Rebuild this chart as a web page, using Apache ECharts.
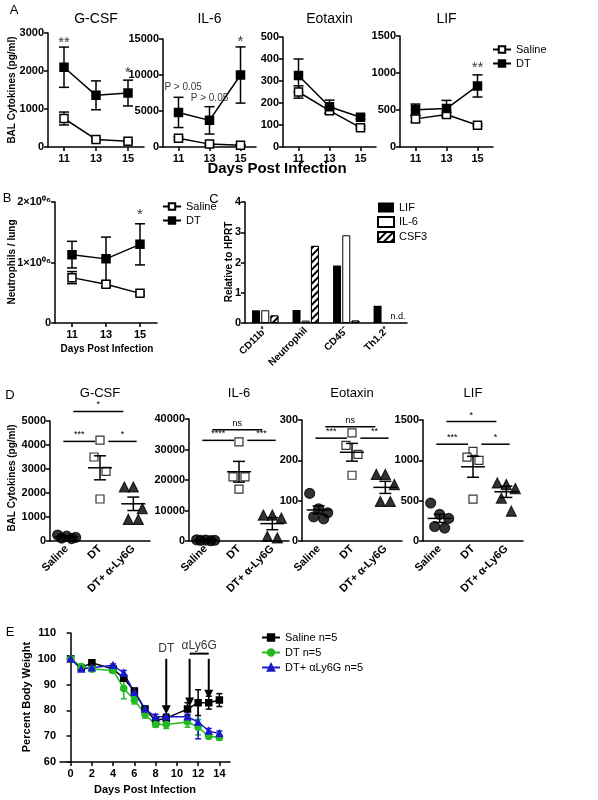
<!DOCTYPE html>
<html><head><meta charset="utf-8">
<script src="https://cdn.jsdelivr.net/npm/echarts@6/dist/echarts.min.js"></script>
<style>html,body{margin:0;padding:0;background:#fff}#c{width:598px;height:800px}</style>
</head><body><div id="c"></div>
<script>
// ---- Panel A data (days 11,13,15) ----
const daysA = [11, 13, 15];
const aTitles = ['G-CSF', 'IL-6', 'Eotaxin', 'LIF'];
const aSaline = [[750,200,150],[1200,400,250],[250,165,88],[380,440,295]];
const aSalineErr = [[170,40,30],[200,100,60],[28,12,6],[40,25,15]];
const aDT = [[2100,1360,1420],[4800,3700,10000],[325,183,135],[505,520,825]];
const aDTErr = [[530,380,340],[2100,1900,3900],[75,30,8],[75,110,150]];
const aMax = [3000,15000,500,1500];
const aInt = [1000,5000,100,500];
const aStars = [[[11,2750,'**'],[15,1950,'*']],[[15,14600,'*']],[],[[15,1070,'**']]];
// ---- Panel B ----
const bSaline = [750000,640000,490000];
const bSalineErr = [100000,40000,25000];
const bDT = [1130000,1060000,1300000];
const bDTErr = [220000,360000,340000];
// ---- Panel C ----
const cCats = ['CD11b\u207A','Neutrophil','CD45\u207B','Th1.2\u207A'];
const cLIF = [0.42,0.43,1.9,0.57];
const cIL6 = [0.42,0.08,2.9,null];
const cCSF3 = [0.25,2.55,0.08,null];
// ---- Panel D ----
const dCats = ['Saline','DT','DT+ \u03B1-Ly6G'];
const dTitles = ['G-CSF','IL-6','Eotaxin','LIF'];
const dMax = [5000,40000,300,1500];
const dInt = [1000,10000,100,500];
const dSaline = [[250,200,150,120,100],[400,300,250,200,100],[118,80,70,60,55],[470,330,280,180,160]];
const dDT = [[4200,3500,2900,1750],[32500,21000,21000,17000],[268,237,215,163],[1110,1040,1000,520]];
const dLy = [[2250,2250,1350,900,900],[8500,8500,7500,1500,1000],[165,165,140,98,98],[720,700,650,530,370]];
const dMean = [[180,3050,1550],[250,22700,5700],[77,220,133],[280,920,610]];
const dSem = [[40,500,280],[60,3400,2000],[10,22,15],[50,130,70]];
const dSig = [
  [[-0.1,0.85,4150,'***'],[1.25,2.1,4150,'*'],[0.2,1.7,5400,'*']],
  [[-0.1,0.85,33000,'****'],[1.25,2.1,33000,'***'],[0.2,1.7,36500,'ns']],
  [[-0.1,0.85,255,'***'],[1.25,2.1,255,'**'],[0.2,1.7,283,'ns']],
  [[-0.1,0.85,1200,'***'],[1.25,2.1,1200,'*'],[0.2,1.7,1480,'*']]
];
// ---- Panel E ----
const eDays = [0,1,2,4,5,6,7,8,9,11,12,13,14];
const eSaline = [100,96.5,98.5,96,92.5,87.5,80.5,76,77,80.5,83,83,84];
const eSalineErr = [0.5,0.5,1,0.5,1,1,1,1,1.5,2.5,5,2.5,2.5];
const eDT = [100,97,96,95.5,88.5,84,78.5,74.5,74.5,75.5,73.5,70,69.5];
const eDTErr = [0.5,0.5,1,1,4,1.5,1.5,1,1.5,2,3,1,1];
const eLy = [100,96,96.5,97.5,94.5,87,80.5,77.5,77.5,77.5,75.5,72,71];
const eLyErr = [0.5,0.5,0.5,0.5,1,1,1,1,1,1,6.5,1,1];
const eArrows = [[9,100,78.5],[11.2,100,81.5],[13,100,84.5]];
const eBar = [11.2,13,102];

const F = 'Liberation Sans, Arial, sans-serif';
const grids = [], xAxes = [], yAxes = [], series = [], graphics = [];
function grid(l,t,w,h){ grids.push({left:l,top:t,width:w,height:h,containLabel:false}); return grids.length-1; }
const axLine = {show:true,lineStyle:{color:'#000',width:1.5}};
const axTick = {show:true,length:4,lineStyle:{color:'#000',width:1.5}};
const plain = v=>String(v);
function yAx(gi,max,intv,fmt,min){ yAxes.push({gridIndex:gi,type:'value',min:min||0,max:max,interval:intv,
  axisLine:axLine,axisTick:axTick,splitLine:{show:false},
  axisLabel:{color:'#000',fontFamily:F,fontWeight:'bold',fontSize:11,margin:4,formatter:fmt||plain}}); }
function xValAx(gi,min,max,vals,fs){ xAxes.push({gridIndex:gi,type:'value',min:min,max:max,
  axisLine:Object.assign({onZero:false},axLine),axisTick:Object.assign({customValues:vals},axTick),splitLine:{show:false},
  axisLabel:{customValues:vals,formatter:plain,color:'#000',fontFamily:F,fontWeight:'bold',fontSize:fs||11,margin:6}}); }
function errSeries(gi,xs,vals,errs,color,cap){
  series.push({type:'custom',xAxisIndex:gi,yAxisIndex:gi,silent:true,z:1,
    data:xs.map((x,i)=>[x,vals[i]-errs[i],vals[i]+errs[i]]),
    renderItem:(p,api)=>{const lo=api.coord([api.value(0),api.value(1)]),hi=api.coord([api.value(0),api.value(2)]);const c=cap||5;
      const st={stroke:color||'#000',lineWidth:1.5};
      return {type:'group',children:[
        {type:'line',shape:{x1:lo[0],y1:lo[1],x2:hi[0],y2:hi[1]},style:st},
        {type:'line',shape:{x1:hi[0]-c,y1:hi[1],x2:hi[0]+c,y2:hi[1]},style:st},
        {type:'line',shape:{x1:lo[0]-c,y1:lo[1],x2:lo[0]+c,y2:lo[1]},style:st}]};}});
}
function lineS(gi,name,xs,vals,sym,fill,color,size){
  series.push({type:'line',name:name,xAxisIndex:gi,yAxisIndex:gi,data:xs.map((x,i)=>[x,vals[i]]),z:3,
    symbol:sym,symbolSize:size||8,showSymbol:true,lineStyle:{color:color||'#000',width:1.5},
    itemStyle:{color:fill,borderColor:color||'#000',borderWidth:1.5}});
}
function textS(gi,pts,fs,weight){
  series.push({type:'scatter',xAxisIndex:gi,yAxisIndex:gi,symbolSize:1,clip:false,itemStyle:{color:'transparent'},silent:true,
    data:pts.map(p=>({value:[p[0],p[1]],label:{show:true,formatter:p[2],position:'inside',color:'#000',fontFamily:F,fontSize:fs||14,fontWeight:weight||'normal'}}))});
}
function txt(x,y,s,fs,weight,rot,align){ graphics.push({type:'text',x:x,y:y,rotation:rot||0,
  style:{text:s,fontFamily:F,fontSize:fs,fontWeight:weight||'normal',fill:'#000',align:align||'center',verticalAlign:'middle'}}); }

// ---- Panel A ----
const aPos = [[48,33,96,114],[163,39,93,108],[283,37,93,110],[400,36,93,111]];
for(let k=0;k<4;k++){
  const [l,t,w,h]=aPos[k]; const gi=grid(l,t,w,h);
  xValAx(gi,10,16,daysA); yAx(gi,aMax[k],aInt[k]);
  errSeries(gi,daysA,aSaline[k],aSalineErr[k]); errSeries(gi,daysA,aDT[k],aDTErr[k]);
  lineS(gi,'Saline',daysA,aSaline[k],'rect','#fff'); lineS(gi,'DT',daysA,aDT[k],'rect','#000');
  if(aStars[k].length) textS(gi,aStars[k],15);
  txt(l+w/2,19,aTitles[k],14);
}
textS(1,[[11.3,8300,'P > 0.05'],[13.0,6800,'P > 0.05']],10);
txt(14,10,'A',13); txt(12,90,'BAL Cytokines (pg/ml)',10,'bold',Math.PI/2);
txt(277,169,'Days Post Infection',15,'bold');

// ---- Panel B ----
let gb=grid(55,202,102,121);
xValAx(gb,10,16,daysA); yAx(gb,2000000,1000000,v=>v===0?'0':(v/1e6)+'\u00D710\u2070\u2076');
errSeries(gb,daysA,bSaline,bSalineErr); errSeries(gb,daysA,bDT,bDTErr);
lineS(gb,'Saline',daysA,bSaline,'rect','#fff'); lineS(gb,'DT',daysA,bDT,'rect','#000');
textS(gb,[[15,1780000,'*']],15);
txt(7,198,'B',13); txt(12,262,'Neutrophils / lung',10,'bold',Math.PI/2);
txt(107,349,'Days Post Infection',10,'bold'); txt(214,199,'C',13);

// ---- Panel C ----
let gc=grid(245,202,162,121);
xAxes.push({gridIndex:gc,type:'category',data:cCats,axisLine:axLine,axisTick:{show:false},
  axisLabel:{rotate:45,color:'#000',fontFamily:F,fontWeight:'bold',fontSize:10,margin:6}});
yAx(gc,4,1);
const bw=8;
series.push({type:'bar',name:'LIF',xAxisIndex:gc,yAxisIndex:gc,data:cLIF,barWidth:bw,barGap:'15%',itemStyle:{color:'#000'}});
series.push({type:'bar',name:'IL-6',xAxisIndex:gc,yAxisIndex:gc,data:cIL6,barWidth:bw,barGap:'15%',itemStyle:{color:'#fff',borderColor:'#000',borderWidth:1}});
series.push({type:'bar',name:'CSF3',xAxisIndex:gc,yAxisIndex:gc,data:cCSF3,barWidth:bw,barGap:'15%',
  itemStyle:{color:'#fff',borderColor:'#000',borderWidth:1,decal:{symbol:'rect',symbolSize:1,dashArrayX:[1,0],dashArrayY:[2,3],rotation:-Math.PI/4,color:'#000',backgroundColor:'#fff'}}});
txt(398,317,'n.d.',9);
txt(229,262,'Relative to HPRT',10,'bold',Math.PI/2);

// ---- Panel D ----
const dPos = [[50,421,100,120],[189,419,100,122],[302,420,100,121],[423,420,100,121]];
const jit5=[-9,0,9,-5,5], jit4=[0,-6,6,0];
for(let k=0;k<4;k++){
  const [l,t,w,h]=dPos[k]; const gi=grid(l,t,w,h);
  xAxes.push({gridIndex:gi,type:'category',data:dCats,axisLine:axLine,axisTick:{show:false},
    axisLabel:{rotate:45,color:'#000',fontFamily:F,fontWeight:'bold',fontSize:11,margin:6,interval:0}});
  yAx(gi,dMax[k],dInt[k]);
  const groups=[[dSaline[k],'circle','#000',jit5],[dDT[k],'rect','#fff',jit4],[dLy[k],'triangle','#000',jit5]];
  groups.forEach((g,ci)=>{
    series.push({type:'scatter',xAxisIndex:gi,yAxisIndex:gi,z:2,
      data:g[0].map((v,i)=>({value:[ci,v],symbolOffset:[g[3][i],0]})),
      symbol:g[1],symbolSize:g[1]==='rect'?8:10,itemStyle:{color:g[2],borderColor:'#000',borderWidth:1.2}});
  });
  series.push({type:'custom',xAxisIndex:gi,yAxisIndex:gi,z:3,silent:true,
    data:dMean[k].map((m,i)=>[i,m,dSem[k][i]]),
    renderItem:(p,api)=>{const x=api.value(0),m=api.value(1),s=api.value(2);
      const c=api.coord([x,m]),a=api.coord([x,m+s]),b=api.coord([x,m-s]);const st={stroke:'#000',lineWidth:1.5};
      return {type:'group',children:[
        {type:'line',shape:{x1:c[0]-12,y1:c[1],x2:c[0]+12,y2:c[1]},style:st},
        {type:'line',shape:{x1:a[0],y1:a[1],x2:b[0],y2:b[1]},style:st},
        {type:'line',shape:{x1:a[0]-6,y1:a[1],x2:a[0]+6,y2:a[1]},style:st},
        {type:'line',shape:{x1:b[0]-6,y1:b[1],x2:b[0]+6,y2:b[1]},style:st}]};}});
  series.push({type:'custom',xAxisIndex:gi,yAxisIndex:gi,z:3,silent:true,clip:false,
    data:dSig[k].map(s=>[0,s[2]]),
    renderItem:(p,api)=>{const s=dSig[k][p.dataIndex];
      const p0=api.coord([0,s[2]]),p1=api.coord([1,s[2]]);const step=p1[0]-p0[0];
      const x1=p0[0]+s[0]*step, x2=p0[0]+s[1]*step;
      return {type:'group',children:[
        {type:'line',shape:{x1:x1,y1:p0[1],x2:x2,y2:p0[1]},style:{stroke:'#000',lineWidth:1.5}},
        {type:'text',x:(x1+x2)/2,y:p0[1]-2,style:{text:s[3],fontFamily:F,fontSize:9,fill:'#000',align:'center',verticalAlign:'bottom'}}]};}});
  txt(l+w/2,393,dTitles[k],13);
}
txt(10,395,'D',13); txt(12,478,'BAL Cytokines (pg/ml)',10,'bold',Math.PI/2);

// ---- Panel E ----
let ge=grid(60,633,170,129);
xValAx(ge,-1,15,[0,2,4,6,8,10,12,14],11); yAx(ge,110,10,null,60);
errSeries(ge,eDays,eDT,eDTErr,'#22bb22',3); errSeries(ge,eDays,eLy,eLyErr,'#1a1acc',3); errSeries(ge,eDays,eSaline,eSalineErr,'#000',3);
lineS(ge,'Saline n=5',eDays,eSaline,'rect','#000','#000',6);
lineS(ge,'DT n=5',eDays,eDT,'circle','#22bb22','#22bb22',6);
lineS(ge,'DT+ \u03B1Ly6G n=5',eDays,eLy,'triangle','#1a1acc','#1a1acc',6);
series.push({type:'custom',xAxisIndex:ge,yAxisIndex:ge,z:5,silent:true,clip:false,
  data:eArrows,
  renderItem:(p,api)=>{const a=api.coord([api.value(0),api.value(1)]),b=api.coord([api.value(0),api.value(2)]);
    return {type:'group',children:[
      {type:'line',shape:{x1:a[0],y1:a[1],x2:b[0],y2:b[1]-6},style:{stroke:'#000',lineWidth:2}},
      {type:'polygon',shape:{points:[[b[0]-4.5,b[1]-9],[b[0]+4.5,b[1]-9],[b[0],b[1]]]},style:{fill:'#000'}}]};}});
series.push({type:'custom',xAxisIndex:ge,yAxisIndex:ge,z:5,silent:true,clip:false,data:[eBar],
  renderItem:(p,api)=>{const a=api.coord([api.value(0),api.value(2)]),b=api.coord([api.value(1),api.value(2)]);
    return {type:'line',shape:{x1:a[0],y1:a[1],x2:b[0],y2:b[1]},style:{stroke:'#000',lineWidth:2}};}});
textS(ge,[[9,104,'DT'],[12.1,105,'\u03B1Ly6G']],12);
txt(10,632,'E',13); txt(27,697,'Percent Body Weight',11,'bold',Math.PI/2);
txt(145,790,'Days Post Infection',11,'bold');

const legTxt={fontFamily:F,fontSize:11,color:'#000'};
const option={animation:false,grid:grids,xAxis:xAxes,yAxis:yAxes,series:series,graphic:graphics,
  legend:[
    {data:['Saline','DT'],orient:'vertical',left:487,top:39,itemGap:3,itemWidth:18,itemHeight:8,textStyle:legTxt},
    {data:['Saline','DT'],orient:'vertical',left:157,top:196,itemGap:3,itemWidth:18,itemHeight:8,textStyle:legTxt},
    {data:[{name:'LIF',icon:'rect'},{name:'IL-6',icon:'rect'},{name:'CSF3',icon:'rect'}],orient:'vertical',left:372,top:197,itemGap:3,itemWidth:16,itemHeight:10,textStyle:legTxt},
    {data:['Saline n=5','DT n=5','DT+ \u03B1Ly6G n=5'],orient:'vertical',left:256,top:627,itemGap:4,itemWidth:18,itemHeight:8,textStyle:legTxt}
  ]};
echarts.init(document.getElementById('c')).setOption(option);
</script></body></html>
